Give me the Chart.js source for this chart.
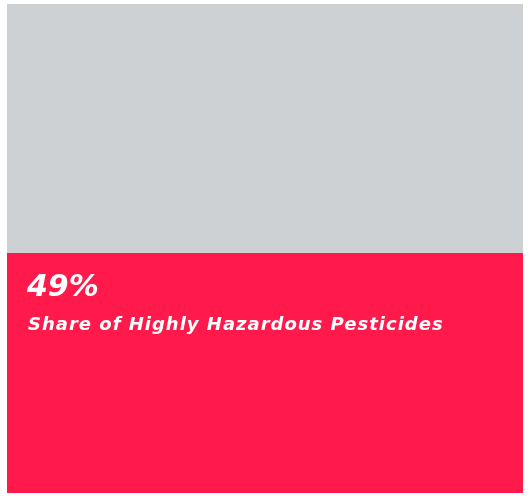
<!DOCTYPE html>
<html>
<head>
<meta charset="utf-8">
<script src="https://cdn.jsdelivr.net/npm/chart.js@4.4.1/dist/chart.umd.min.js"></script>
<style>
  html, body { margin: 0; padding: 0; background: #fff; }
  #wrap { width: 528px; height: 498px; }
</style>
</head>
<body>
<div id="wrap"><canvas id="ch"></canvas></div>
<script>
const categories = ['Pesticides'];
const hazardous = [49];
const other = [51];
const hazardLabel = 'Share of Highly Hazardous Pesticides';

// big percentage plus caption inside the top of the red block
const shareLabel = {
    id: 'shareLabel',
    afterDatasetsDraw(chart) {
        const bar = chart.getDatasetMeta(0).data[0];
        const ctx = chart.ctx;
        const left = bar.x - bar.width / 2;
        ctx.save();
        ctx.fillStyle = '#ffffff';
        ctx.textAlign = 'left';
        ctx.textBaseline = 'alphabetic';
        ctx.font = 'italic bold 30px "DejaVu Sans"';
        ctx.letterSpacing = '0px';
        ctx.fillText(hazardous[0] + '%', left + 20, bar.y + 43);
        ctx.font = 'italic bold 18px "DejaVu Sans"';
        ctx.letterSpacing = '1px';
        ctx.fillText(hazardLabel, left + 21, bar.y + 77);
        ctx.restore();
    }
};

new Chart('ch', {
    type: 'bar',
    data: {
        labels: categories,
        datasets: [{
            label: hazardLabel,
            data: hazardous,
            backgroundColor: '#ff1a4b',
            borderWidth: 0
        }, {
            label: 'Other',
            data: other,
            backgroundColor: '#cdd1d3',
            borderWidth: 0
        }]
    },
    options: {
        responsive: true,
        maintainAspectRatio: false,
        animation: false,
        layout: { padding: { left: 7, right: 5, top: 4, bottom: 5 } },
        datasets: { bar: { categoryPercentage: 1, barPercentage: 1 } },
        scales: {
            x: { stacked: true, display: false },
            y: { stacked: true, display: false, min: 0, max: 100 }
        },
        plugins: {
            legend: { display: false },
            tooltip: { enabled: false }
        }
    },
    plugins: [shareLabel]
});
</script>
</body>
</html>
